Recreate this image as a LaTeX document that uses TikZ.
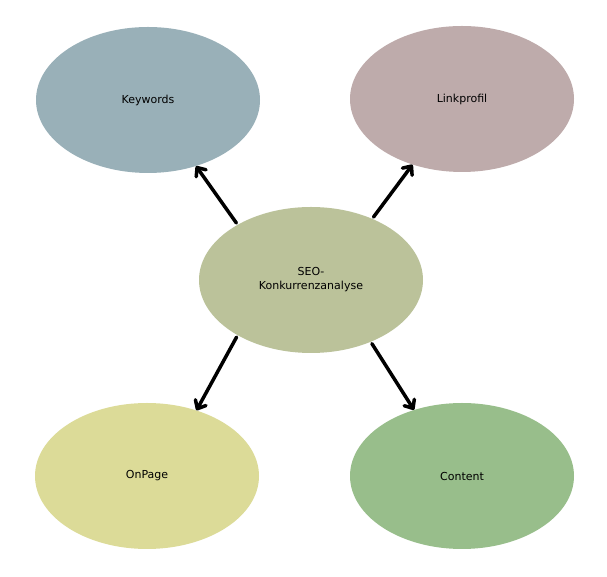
\documentclass[tikz,border=0pt]{standalone}
\usepackage{fontspec}
\setmainfont{DejaVu Sans}
\usetikzlibrary{arrows.meta,shapes.geometric}
\definecolor{kwcol}{HTML}{99B0B8}
\definecolor{lpcol}{HTML}{BEABAB}
\definecolor{seocol}{HTML}{BBC29A}
\definecolor{opcol}{HTML}{DCDB98}
\definecolor{ctcol}{HTML}{98BE8B}
\tikzset{
  topic/.style={ellipse,minimum width=224pt,minimum height=146pt,inner sep=0pt,align=center,font=\fontsize{11}{14}\selectfont},
  link/.style={line width=3.5pt,-{Straight Barb[length=7pt,width=12pt,line cap=round,line join=round]},line cap=round,shorten <=2pt}
}
\begin{document}
\begin{tikzpicture}[x=1pt,y=1pt]
\useasboundingbox (0,0) rectangle (607,577);
\node[topic,fill=kwcol] (kw) at (148,477) {Keywords};
\node[topic,fill=lpcol] (lp) at (462,478) {Linkprofil};
\node[topic,fill=seocol] (seo) at (311,297) {SEO-\\Konkurrenzanalyse};
\node[topic,fill=opcol] (op) at (147,101) {OnPage};
\node[topic,fill=ctcol] (ct) at (462,101) {Content};

\draw[link] (seo.143) -- (kw.-54);
\draw[link] (seo.45) -- (lp.-127);
\draw[link] (seo.-143) -- (op.53);
\draw[link] (seo.-46) -- (ct.126);
\end{tikzpicture}
\end{document}
